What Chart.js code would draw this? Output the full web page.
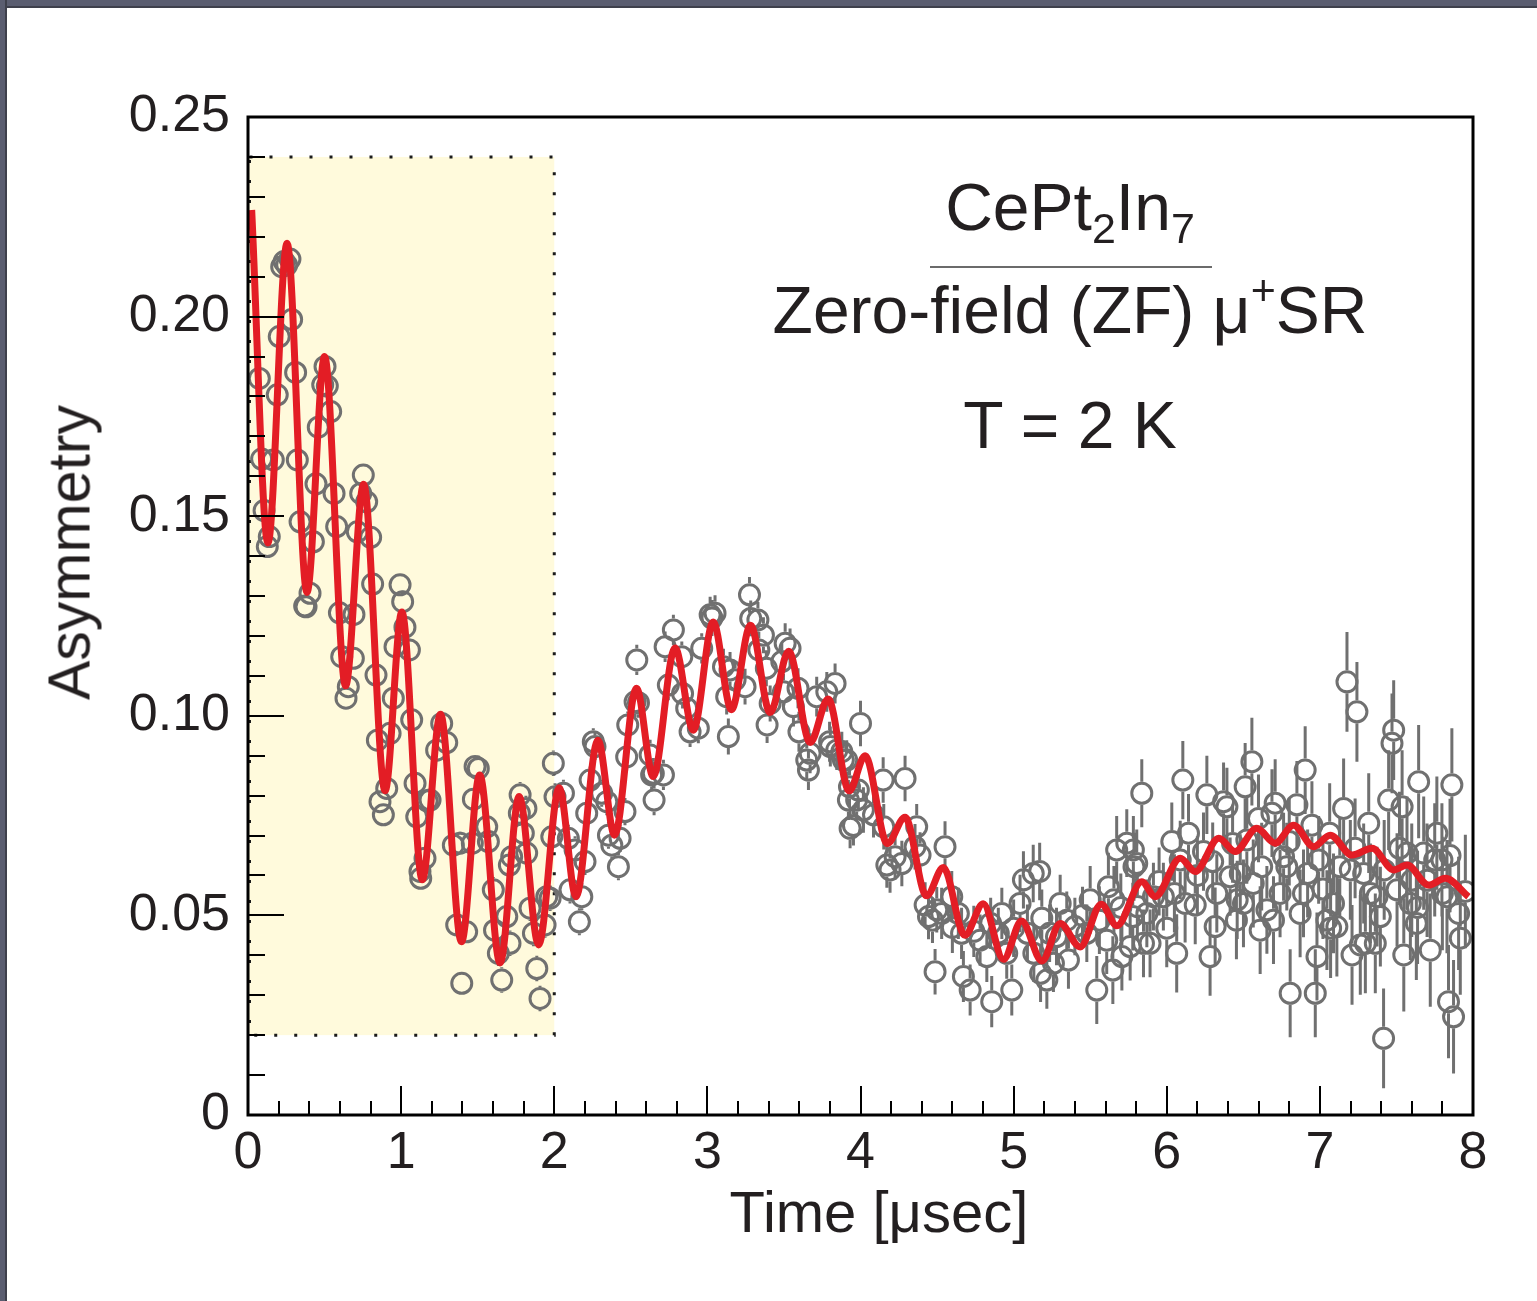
<!DOCTYPE html>
<html>
<head>
<meta charset="utf-8">
<title>CePt2In7 ZF muSR</title>
<script src="https://cdn.jsdelivr.net/npm/chart.js@4.4.0/dist/chart.umd.min.js"></script>
<style>
html,body{margin:0;padding:0;background:#fff;width:1537px;height:1301px;overflow:hidden;}
#wrap{position:relative;width:1537px;height:1301px;background:#fff;}
#chart{position:absolute;left:0;top:0;}
.frameTop{position:absolute;left:0;top:0;width:1537px;height:8px;background:#5a5d70;box-shadow:inset 0 -2px 0 #3e404c;}
.frameLeft{position:absolute;left:0;top:0;width:7px;height:1301px;background:#5a5d70;box-shadow:inset -2px 0 0 #3e404c;}
.txt{position:absolute;font-family:'Liberation Sans',Arial,Helvetica,sans-serif;color:#231f20;white-space:nowrap;text-align:center;}
.ann{left:770px;width:600px;font-size:66px;line-height:66px;height:66px;}
.sub{font-size:43px;position:relative;top:13px;}
.sup{font-size:43px;position:relative;top:-28px;}
</style>
</head>
<body>
<div id="wrap">
  <canvas id="chart" width="1537" height="1301"></canvas>
  <div class="frameTop"></div>
  <div class="frameLeft"></div>
  <div class="txt ann" style="top:174px;">CePt<span class="sub">2</span>In<span class="sub">7</span></div>
  <div style="position:absolute;left:930px;top:266px;width:282px;height:2px;background:#6b6b6b;"></div>
  <div class="txt ann" style="top:277px;">Zero-field (ZF) μ<span class="sup">+</span>SR</div>
  <div class="txt ann" style="top:392px;">T = 2 K</div>
  <div class="txt" style="left:679px;width:400px;top:1183px;font-size:58px;line-height:58px;height:58px;">Time [μsec]</div>
  <div class="txt" style="left:-130px;width:400px;top:523px;font-size:59px;line-height:59px;height:59px;transform:rotate(-90deg);transform-origin:200px 29.5px;">Asymmetry</div>
</div>
<script>
// ---- data ----
const timeUs = [
0.074,0.089,0.105,0.126,0.139,0.165,0.191,0.204,0.22,0.236,0.253,0.274,0.285,0.311,0.322,0.34,0.37,0.379,0.405,0.427,
0.444,0.459,0.488,0.503,0.518,0.54,0.562,0.579,0.597,0.612,0.64,0.655,0.688,0.692,0.714,0.736,0.753,0.775,0.801,0.814,
0.836,0.845,0.862,0.884,0.906,0.928,0.949,0.96,0.993,1.01,1.025,1.054,1.069,1.091,1.102,1.123,1.128,1.156,1.17,1.189,
1.232,1.265,1.298,1.341,1.363,1.385,1.396,1.428,1.465,1.472,1.483,1.504,1.559,1.57,1.602,1.61,1.635,1.657,1.69,1.707,
1.711,1.722,1.772,1.777,1.798,1.815,1.82,1.842,1.864,1.886,1.907,1.94,1.951,1.973,1.984,1.994,2.005,2.06,2.092,2.103,
2.136,2.164,2.18,2.201,2.212,2.234,2.255,2.266,2.31,2.343,2.354,2.376,2.419,2.43,2.462,2.473,2.48,2.528,2.539,2.55,
2.626,2.636,2.647,2.652,2.713,2.724,2.745,2.778,2.833,2.838,2.865,2.887,2.941,2.963,3.018,3.03,3.05,3.105,3.126,3.137,
3.148,3.181,3.246,3.275,3.283,3.33,3.336,3.366,3.385,3.39,3.41,3.486,3.497,3.508,3.54,3.562,3.592,3.598,3.649,3.66,
3.671,3.714,3.78,3.798,3.803,3.834,3.845,3.878,3.888,3.91,3.921,3.928,3.932,3.954,3.975,3.986,4.0,4.019,4.085,4.148,
4.152,4.172,4.193,4.226,4.27,4.291,4.356,4.367,4.389,4.422,4.444,4.47,4.487,4.498,4.53,4.552,4.596,4.6,4.639,4.66,
4.672,4.716,4.74,4.781,4.825,4.85,4.857,4.9,4.923,4.955,4.988,5.0,5.042,5.064,5.09,5.128,5.132,5.17,5.176,5.184,
5.217,5.235,5.26,5.28,5.304,5.347,5.358,5.4,5.45,5.478,5.5,5.543,5.56,5.608,5.619,5.648,5.655,5.673,5.7,5.707,
5.739,5.761,5.778,5.782,5.786,5.804,5.808,5.837,5.848,5.87,5.891,5.913,5.95,5.978,6.0,6.033,6.05,6.065,6.088,6.105,
6.12,6.142,6.186,6.2,6.24,6.262,6.283,6.3,6.316,6.327,6.371,6.393,6.414,6.43,6.455,6.46,6.48,6.501,6.512,6.523,
6.556,6.565,6.599,6.61,6.62,6.654,6.687,6.697,6.708,6.74,6.763,6.784,6.8,6.806,6.85,6.871,6.893,6.904,6.92,6.948,
6.97,6.981,6.992,7.02,7.046,7.064,7.07,7.089,7.111,7.13,7.155,7.177,7.199,7.21,7.23,7.242,7.264,7.286,7.297,7.319,
7.33,7.362,7.373,7.395,7.416,7.42,7.449,7.471,7.482,7.504,7.52,7.537,7.548,7.569,7.591,7.6,7.63,7.638,7.645,7.678,
7.7,7.721,7.75,7.764,7.797,7.8,7.83,7.84,7.85,7.862,7.873,7.906,7.917,7.95
];
const asymmetry = [
0.1845,0.1643,0.1514,0.1424,0.1449,0.1641,0.1804,0.195,0.2125,0.2138,0.2129,0.2144,0.1993,0.186,0.1641,0.1486,0.1275,0.1273,0.1307,0.1436,
0.1581,0.1723,0.1829,0.1875,0.1826,0.1762,0.1557,0.1474,0.1258,0.1148,0.1044,0.1073,0.1144,0.1254,0.1461,0.1557,0.1603,0.1536,0.1447,0.133,
0.1102,0.0939,0.0785,0.0752,0.0818,0.0956,0.1044,0.1173,0.1328,0.1286,0.1222,0.1165,0.099,0.0831,0.0747,0.061,0.0593,0.0643,0.0787,0.0789,
0.0914,0.0981,0.0933,0.0676,0.0476,0.0681,0.033,0.0459,0.0681,0.0791,0.0873,0.0868,0.0722,0.0685,0.0564,0.0463,0.0405,0.0338,0.0497,0.0626,
0.043,0.0647,0.0756,0.0802,0.0706,0.0768,0.0656,0.0518,0.0455,0.0367,0.0292,0.0476,0.0547,0.0543,0.0697,0.0881,0.0797,0.0806,0.0693,0.0564,
0.0664,0.0484,0.0547,0.0635,0.0756,0.0839,0.0935,0.0923,0.0806,0.0785,0.0701,0.0676,0.0622,0.0693,0.076,0.0897,0.0977,0.1035,0.114,0.1033,
0.0902,0.0852,0.0856,0.0789,0.0852,0.1173,0.1077,0.1215,0.1148,0.1056,0.1019,0.096,0.0969,0.1169,0.1253,0.1245,0.1257,0.1123,0.1048,0.0948,
0.1115,0.109,0.1073,0.1303,0.1244,0.124,0.1165,0.1202,0.1119,0.0977,0.1031,0.1136,0.106,0.1182,0.1169,0.1023,0.1069,0.096,0.0889,0.0864,
0.0906,0.1048,0.106,0.0935,0.0923,0.1081,0.0914,0.091,0.0889,0.0889,0.0789,0.0822,0.0718,0.0725,0.0789,0.0814,0.0981,0.0764,0.0752,0.0839,
0.0722,0.0626,0.0614,0.0647,0.063,0.0843,0.0672,0.0722,0.0651,0.0526,0.0497,0.0488,0.0359,0.0514,0.0505,0.0672,0.0547,0.047,0.0505,0.0455,
0.0347,0.0313,0.046,0.0438,0.0397,0.048,0.0284,0.0455,0.0505,0.0405,0.0313,0.0468,0.053,0.0589,0.0455,0.0605,0.0405,0.061,0.0355,0.0493,
0.0338,0.0455,0.038,0.0447,0.053,0.0488,0.0388,0.0472,0.05,0.0455,0.0539,0.0313,0.0488,0.0438,0.0572,0.0363,0.0539,0.0664,0.052,0.0397,
0.0681,0.0422,0.0497,0.0664,0.0622,0.063,0.0522,0.0806,0.043,0.0505,0.043,0.0547,0.0585,0.0547,0.0468,0.0685,0.0555,0.0405,0.0639,0.0839,
0.053,0.0706,0.0526,0.06,0.066,0.0802,0.0397,0.0635,0.0472,0.0555,0.0785,0.0772,0.0597,0.068,0.0488,0.0539,0.0605,0.053,0.0822,0.0689,
0.0885,0.058,0.0743,0.0463,0.0622,0.0514,0.0756,0.0488,0.0781,0.0555,0.0647,0.0622,0.0685,0.0305,0.0777,0.0505,0.0555,0.0864,0.0605,0.0726,
0.0305,0.0397,0.0639,0.0566,0.0488,0.0706,0.0468,0.053,0.0472,0.0622,0.0768,0.1085,0.0614,0.0401,0.0668,0.101,0.0426,0.0605,0.043,0.0731,
0.0555,0.043,0.0547,0.0497,0.0192,0.0614,0.0789,0.0931,0.0964,0.0564,0.0668,0.0772,0.0401,0.0656,0.053,0.0588,0.048,0.052,0.0835,0.0656,
0.0588,0.0413,0.0639,0.0706,0.0639,0.0555,0.0547,0.0284,0.065,0.0827,0.0246,0.0505,0.0443,0.056
];
// error-bar half length for each 0.5 us slice of the time axis
const errorPerHalfUs = [0.0022,0.0025,0.0029,0.0032,0.0034,0.0038,0.0045,0.005,0.0057,0.0064,0.0072,0.0085,0.0098,0.011,0.0125,0.0142];
// fitted curve, read at its start, turning points and end
const fitTimeUs = [0.024,0.13,0.255,0.385,0.5,0.637,0.755,0.895,1.005,1.138,1.257,1.394,1.513,1.646,1.771,1.898,2.032,2.142,2.285,2.394,
2.537,2.646,2.789,2.908,3.038,3.157,3.282,3.41,3.531,3.671,3.789,3.926,4.03,4.175,4.291,4.431,4.541,4.681,4.801,4.934,
5.051,5.185,5.304,5.434,5.572,5.674,5.837,5.924,6.088,6.186,6.34,6.447,6.588,6.708,6.828,6.959,7.067,7.21,7.341,7.482,
7.569,7.71,7.819,7.97];
const fitAsymmetry = [0.2267,0.1433,0.2184,0.1309,0.19,0.1075,0.158,0.0812,0.126,0.0589,0.1004,0.0434,0.0852,0.0381,0.0798,0.0426,0.082,0.0547,0.0939,0.0701,
0.1069,0.0848,0.117,0.0964,0.1235,0.1015,0.1227,0.1008,0.1162,0.0933,0.1042,0.0812,0.09,0.068,0.0746,0.0549,0.062,0.045,0.0529,0.039,
0.0486,0.0386,0.048,0.0421,0.0528,0.0474,0.0584,0.0547,0.0643,0.061,0.0693,0.066,0.0718,0.0681,0.0726,0.0672,0.0701,0.0651,0.0668,0.0614,
0.0626,0.0576,0.0593,0.0547];
const xTickLabels = ['0','1','2','3','4','5','6','7','8'];
const yTickLabels = ['0','0.05','0.10','0.15','0.20','0.25'];
const shadedTimeUs = [0, 2];
const shadedAsymmetry = [0.02, 0.24];

// ---- styling ----
const RED = '#e31d25';
const GRAY = '#707070';
const INK = '#231f20';
const FONT = "'Liberation Sans', Arial, Helvetica, sans-serif";

const points = timeUs.map((t, i) => ({x: t, y: asymmetry[i]}));
const fitLine = fitTimeUs.map((t, i) => ({x: t, y: fitAsymmetry[i]}));

const decor = {
  id: 'decor',
  beforeDatasetsDraw(chart) {
    const {ctx, chartArea: a, scales: {x, y}} = chart;
    ctx.save();
    const x0 = x.getPixelForValue(shadedTimeUs[0]), x1 = x.getPixelForValue(shadedTimeUs[1]);
    const y0 = y.getPixelForValue(shadedAsymmetry[1]), y1 = y.getPixelForValue(shadedAsymmetry[0]);
    ctx.fillStyle = '#fffadc';
    ctx.fillRect(x0, y0, x1 - x0, y1 - y0);
    ctx.strokeStyle = '#1a1a1a';
    ctx.lineWidth = 3;
    ctx.setLineDash([3, 17]);
    ctx.strokeRect(x0 + 1.5, y0, x1 - x0 - 1.5, y1 - y0);
    ctx.setLineDash([]);
    // error bars (drawn outside the open circles)
    ctx.beginPath();
    ctx.rect(a.left, a.top, a.right - a.left, a.bottom - a.top);
    ctx.clip();
    ctx.strokeStyle = GRAY;
    ctx.lineWidth = 3;
    const r = 11.5;
    ctx.beginPath();
    for (let i = 0; i < timeUs.length; i++) {
      const bin = Math.min(errorPerHalfUs.length - 1, Math.floor(timeUs[i] / 0.5));
      const e = errorPerHalfUs[bin];
      const px = x.getPixelForValue(timeUs[i]);
      const py = y.getPixelForValue(asymmetry[i]);
      const top = y.getPixelForValue(asymmetry[i] + e);
      const bot = y.getPixelForValue(asymmetry[i] - e);
      if (py - top > r) { ctx.moveTo(px, top); ctx.lineTo(px, py - r); }
      if (bot - py > r) { ctx.moveTo(px, py + r); ctx.lineTo(px, bot); }
    }
    ctx.stroke();
    ctx.restore();
  },
  afterDraw(chart) {
    const {ctx, chartArea: a, scales: {x, y}} = chart;
    ctx.save();
    ctx.strokeStyle = '#000';
    ctx.lineWidth = 2;
    ctx.beginPath();
    for (let i = 0; i <= 40; i++) {
      const px = Math.round(x.getPixelForValue(i * 0.2));
      const len = (i % 5 === 0) ? 29 : 14;
      ctx.moveTo(px, a.bottom);
      ctx.lineTo(px, a.bottom - len);
    }
    for (let i = 0; i <= 25; i++) {
      const py = Math.round(y.getPixelForValue(i * 0.01));
      const len = (i % 5 === 0) ? 36 : 17;
      ctx.moveTo(a.left, py);
      ctx.lineTo(a.left + len, py);
    }
    ctx.stroke();
    ctx.lineWidth = 3;
    ctx.strokeRect(a.left, a.top, a.right - a.left, a.bottom - a.top);
    ctx.restore();
  }
};

new Chart(document.getElementById('chart').getContext('2d'), {
  type: 'scatter',
  data: {
    datasets: [
      {
        label: 'fit',
        data: fitLine,
        showLine: true,
        borderColor: RED,
        backgroundColor: RED,
        borderWidth: 7,
        pointRadius: 0,
        cubicInterpolationMode: 'monotone',
        fill: false,
        order: 0
      },
      {
        label: 'ZF data',
        data: points,
        showLine: false,
        pointStyle: 'circle',
        pointRadius: 10,
        pointBorderWidth: 3,
        borderColor: GRAY,
        pointBorderColor: GRAY,
        backgroundColor: 'rgba(0,0,0,0)',
        pointBackgroundColor: 'rgba(0,0,0,0)',
        order: 1
      }
    ]
  },
  options: {
    responsive: false,
    animation: false,
    devicePixelRatio: 1,
    layout: {padding: {left: 0, top: 117, right: 64, bottom: 0}},
    plugins: {legend: {display: false}, tooltip: {enabled: false}},
    scales: {
      x: {
        type: 'linear', min: 0, max: 8,
        grid: {display: false, drawTicks: false},
        border: {display: false},
        ticks: {
          stepSize: 1, autoSkip: false, maxRotation: 0, padding: 7, color: INK,
          font: {family: FONT, size: 52},
          callback: (v) => xTickLabels[Math.round(v)]
        },
        afterFit: (s) => { s.height = 186; s.paddingLeft = 0; s.paddingRight = 0; }
      },
      y: {
        type: 'linear', min: 0, max: 0.25,
        grid: {display: false, drawTicks: false},
        border: {display: false},
        ticks: {
          stepSize: 0.05, autoSkip: false, padding: 18, color: INK,
          font: {family: FONT, size: 52},
          callback: (v) => yTickLabels[Math.round(v / 0.05)]
        },
        afterFit: (s) => { s.width = 248; s.paddingTop = 0; s.paddingBottom = 0; }
      }
    }
  },
  plugins: [decor]
});
</script>
</body>
</html>
